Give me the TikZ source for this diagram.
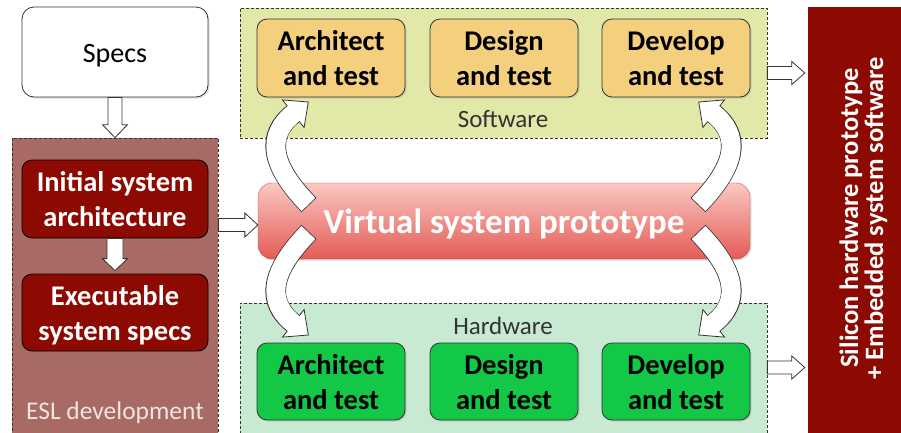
\documentclass[tikz,border=0pt]{standalone}
\usepackage{fontspec}
\setmainfont{Carlito}
\usetikzlibrary{calc,shadows}
\definecolor{eslbg}{HTML}{A86A64}
\definecolor{darkred}{HTML}{8C0A02}
\definecolor{swbg}{HTML}{E1E8A8}
\definecolor{swbox}{HTML}{F4CF7E}
\definecolor{hwbg}{HTML}{C8EAD2}
\definecolor{hwbox}{HTML}{12C846}
\definecolor{vtop}{HTML}{FBC8C2}
\definecolor{vmid}{HTML}{F39590}
\definecolor{vbot}{HTML}{E35B56}
\definecolor{edgecol}{HTML}{333333}
\definecolor{esltext}{HTML}{F2E4E0}
\tikzset{
  container/.style={rectangle, draw=edgecol, line width=0.7pt, dash pattern=on 3pt off 2pt, inner sep=0pt},
  boxshadow/.style={drop shadow={opacity=0.25, shadow xshift=1.5pt, shadow yshift=-1.5pt}},
  stagebox/.style={rectangle, rounded corners=10pt, draw=edgecol, line width=0.8pt,
    minimum width=148pt, minimum height=78pt, align=center, inner sep=0pt, text depth=-5pt,
    font=\bfseries\fontsize{28.5}{35}\selectfont, boxshadow},
  swstage/.style={stagebox, fill=swbox, text=black},
  hwstage/.style={stagebox, fill=hwbox, text=black, minimum height=77pt},
  redbox/.style={stagebox, fill=darkred, text=white, draw=black, minimum width=186pt},
  grouplabel/.style={font=\fontsize{25}{30}\selectfont, inner sep=0pt, text depth=0pt},
  blockarr/.style={draw=edgecol, fill=white, line width=0.8pt, line join=miter},
  shaftout/.style={line width=20.6pt, draw=edgecol},
  shaftin/.style={line width=19pt, draw=white, shorten <=0.8pt, shorten >=-1.5pt},
  arrhead/.style={fill=white, draw=edgecol, line width=0.8pt, line join=miter}
}
% curved block arrow, drawn around the centre (vc) with a mirroring given as #1
\newcommand\curvedarrow[1]{%
  \begin{scope}[shift={(vc)}, #1]
    \draw[shaftout] (-194.5,-13.5) .. controls (-233.5,-53.5) and (-237.7,-83.2) .. (-210.2,-104.8);
    \draw[arrhead] (-221.0,-118.6) -- (-195.2,-116.5) -- (-199.4,-91.0) -- cycle;
    \draw[shaftin] (-194.5,-13.5) .. controls (-233.5,-53.5) and (-237.7,-83.2) .. (-210.2,-104.8);
  \end{scope}%
}
% #1 start, #2 end, #3 shaft half width, #4 head half width, #5 head length
\newcommand\blockarrow[5]{%
  \path (#1) coordinate (ba-s) (#2) coordinate (ba-e);
  \path ($(ba-e)!#5!(ba-s)$) coordinate (ba-h);
  \draw[blockarr] ($(ba-s)!#3!-90:(ba-e)$) -- ($(ba-h)!#3!90:(ba-s)$) -- ($(ba-h)!#4!90:(ba-s)$)
    -- (ba-e) -- ($(ba-h)!#4!-90:(ba-s)$) -- ($(ba-h)!#3!-90:(ba-s)$) -- ($(ba-s)!#3!90:(ba-e)$) -- cycle;
}
\begin{document}
\begin{tikzpicture}[x=1pt,y=-1pt]
\useasboundingbox (0,0) rectangle (901,432);
% containers
\node[container, fill=eslbg, minimum width=206pt, minimum height=298pt] (esl) at (115,287) {};
\node[container, fill=swbg, minimum width=527pt, minimum height=130pt] (swc) at (503.5,73) {};
\node[container, fill=hwbg, minimum width=527pt, minimum height=133pt] (hwc) at (503.5,369.5) {};
\node[rectangle, fill=darkred, minimum width=97pt, minimum height=429pt, inner sep=0pt] (rb) at (856.5,221.5) {};
% boxes
\node[stagebox, fill=white, draw=edgecol, rounded corners=12pt, minimum width=186pt, minimum height=90pt,
  text depth=0pt, font=\fontsize{28}{35}\selectfont] (specs) at (115,52) {\raisebox{-3pt}{Specs}};
\node[redbox] (init) at (115,199) {Initial system\\architecture};
\node[redbox, minimum height=77pt] (exec) at (115,312.5) {Executable\\system specs};
\node[swstage] (swA) at (331,58) {Architect\\and test};
\node[swstage] (swD) at (504,58) {Design\\and test};
\node[swstage] (swV) at (676,58) {Develop\\and test};
\node[hwstage] (hwA) at (331,381.5) {Architect\\and test};
\node[hwstage] (hwD) at (504,381.5) {Design\\and test};
\node[hwstage] (hwV) at (676,381.5) {Develop\\and test};
\node[rectangle, rounded corners=14pt, minimum width=492pt, minimum height=76pt, inner sep=0pt,
  top color=vtop, middle color=vmid, bottom color=vbot, draw=vbot!80!black, line width=0.3pt,
  text=white, text depth=0pt, font=\bfseries\fontsize{35}{40}\selectfont, boxshadow] (virtual) at (504,221) {Virtual system prototype};
% labels
\node[grouplabel, text=edgecol] (swlabel) at (503,118.5) {Software};
\node[grouplabel, text=edgecol] (hwlabel) at (503,325.5) {Hardware};
\node[grouplabel, text=esltext, font=\fontsize{25.5}{30}\selectfont] (esllabel) at (115,411) {ESL development};
\node[rotate=90, align=center, text=white, inner sep=0pt, font=\bfseries\fontsize{26.5}{25}\selectfont] (rbtext) at (863.5,218)
  {Silicon hardware prototype\\+ Embedded system software};
% straight block arrows
\coordinate (vin) at ($(virtual.west)+(0,4)$);
\coordinate (eslout) at (esl.east |- vin);
\coordinate (swend) at ($(swc.east -| rb.west)+(-3,0)$);
\coordinate (hwstart) at ($(hwc.east)+(0,-2)$);
\coordinate (hwend) at ($(hwc.east -| rb.west)+(-3,-2)$);
\coordinate (execin) at ($(exec.north)+(0,-3)$);
\blockarrow{specs.south}{esl.north}{7pt}{12.5pt}{13pt}
\blockarrow{init.south}{execin}{8pt}{12.5pt}{12pt}
\blockarrow{eslout}{vin}{6.5pt}{12pt}{13pt}
\blockarrow{swc.east}{swend}{6.5pt}{11.5pt}{13pt}
\blockarrow{hwstart}{hwend}{6.5pt}{11.5pt}{13pt}
% curved arrows between the prototype and the first and last stages
\coordinate (vc) at ($(virtual.center)+(-0.5,-2.5)$);
\curvedarrow{xscale=1}
\curvedarrow{xscale=-1}
\curvedarrow{yscale=-1}
\curvedarrow{xscale=-1, yscale=-1}
\end{tikzpicture}
\end{document}
